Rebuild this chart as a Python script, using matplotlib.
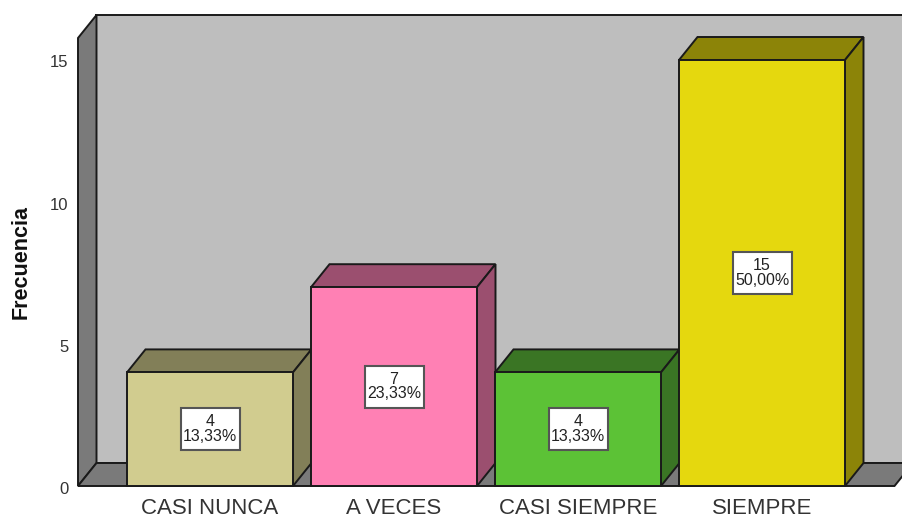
import matplotlib
matplotlib.use("Agg")
import matplotlib.pyplot as plt
from matplotlib.patches import Polygon, Rectangle
from matplotlib.transforms import ScaledTranslation

plt.rcParams['font.family'] = ['Liberation Sans', 'DejaVu Sans']

categorias = ["CASI NUNCA", "A VECES", "CASI SIEMPRE", "SIEMPRE"]
frecuencia = [4, 7, 4, 15]
porcentaje = ["13,33%", "23,33%", "13,33%", "50,00%"]
yticks = [0, 5, 10, 15]

color_frente = ["#D1CC8F", "#FF80B4", "#5CC236", "#E5D80E"]
color_lado = ["#827F58", "#9B4F6F", "#3A7524", "#8C8408"]

W, H = 902, 519
x0, y0 = 78, 486     # pixel of the axes corner
px_cat = 184.0       # pixels per category
px_val = 28.4        # pixels per unit of frecuencia
dx = 18.5 / px_cat   # 3d depth
dy = 23.0 / px_val
ancho = 166.0 / px_cat
borde = "#1a1a1a"
lw = 1.4

fig = plt.figure(figsize=(W / 100, H / 100), dpi=100)
ax = fig.add_axes([x0 / W, (H - y0) / H, (W - x0) / W, y0 / H])
xmin = (x0 - 210) / px_cat
xmax = (W - 210) / px_cat
ymax = y0 / px_val
ax.set_xlim(xmin, xmax)
ax.set_ylim(0, ymax)
for s in ax.spines.values():
    s.set_visible(False)
ax.patch.set_visible(False)

# walls and floor
xder = xmax + 11 / px_cat
techo = ymax - 15 / px_val
ax.add_patch(Rectangle((xmin + dx, dy), xder - xmin, techo - dy, fc="#BEBEBE", ec=borde, lw=lw, zorder=1, clip_on=False))
ax.add_patch(Polygon([(xmin, 0), (xmin + dx, dy), (xmin + dx, techo), (xmin, techo - dy)],
                     fc="#7A7A7A", ec=borde, lw=lw, zorder=2, clip_on=False))
ax.add_patch(Polygon([(xmin, 0), (xder - dx, 0), (xder, dy), (xmin + dx, dy)],
                     fc="#7A7A7A", ec=borde, lw=lw, zorder=2, clip_on=False))

# bars
pos = list(range(len(categorias)))
for i in pos:
    f = frecuencia[i]
    z = 3 + i
    izq = i - ancho / 2
    der = i + ancho / 2
    ax.add_patch(Polygon([(izq, f), (der, f), (der + dx, f + dy), (izq + dx, f + dy)],
                         fc=color_lado[i], ec=borde, lw=lw, zorder=z, clip_on=False))
    ax.add_patch(Polygon([(der, 0), (der + dx, dy), (der + dx, f + dy), (der, f)],
                         fc=color_lado[i], ec=borde, lw=lw, zorder=z, clip_on=False))
    ax.bar(i, f, width=ancho, color=color_frente[i], edgecolor=borde, linewidth=lw, zorder=z, clip_on=False)

    # label box
    bw = 59 / px_cat
    bh = 42 / px_val
    ax.add_patch(Rectangle((i - bw / 2, f / 2 - bh / 2), bw, bh, fc="white", ec="#555555", lw=1.5, zorder=10))
    ax.text(i, f / 2, str(f) + "\n" + porcentaje[i], ha="center", va="center", fontsize=11.5,
            color="#222222", linespacing=0.95, zorder=11)

ax.set_xticks(pos)
ax.set_xticklabels(categorias, fontsize=16, color="#333333")
ax.set_yticks(yticks)
ax.set_yticklabels([str(v) for v in yticks], fontsize=12, color="#333333")
ax.tick_params(axis="both", length=0)
ax.tick_params(axis="x", pad=9)
ax.tick_params(axis="y", pad=7)
bajar = ScaledTranslation(0, -1.5 / 100, fig.dpi_scale_trans)
for lbl in ax.get_yticklabels():
    lbl.set_transform(lbl.get_transform() + bajar)

fig.text(21 / W, 1 - 262 / H, "Frecuencia", rotation=90, ha="center", va="center",
         fontsize=15.5, fontweight="bold", color="#111111")

fig.savefig("out.png", dpi=100)
